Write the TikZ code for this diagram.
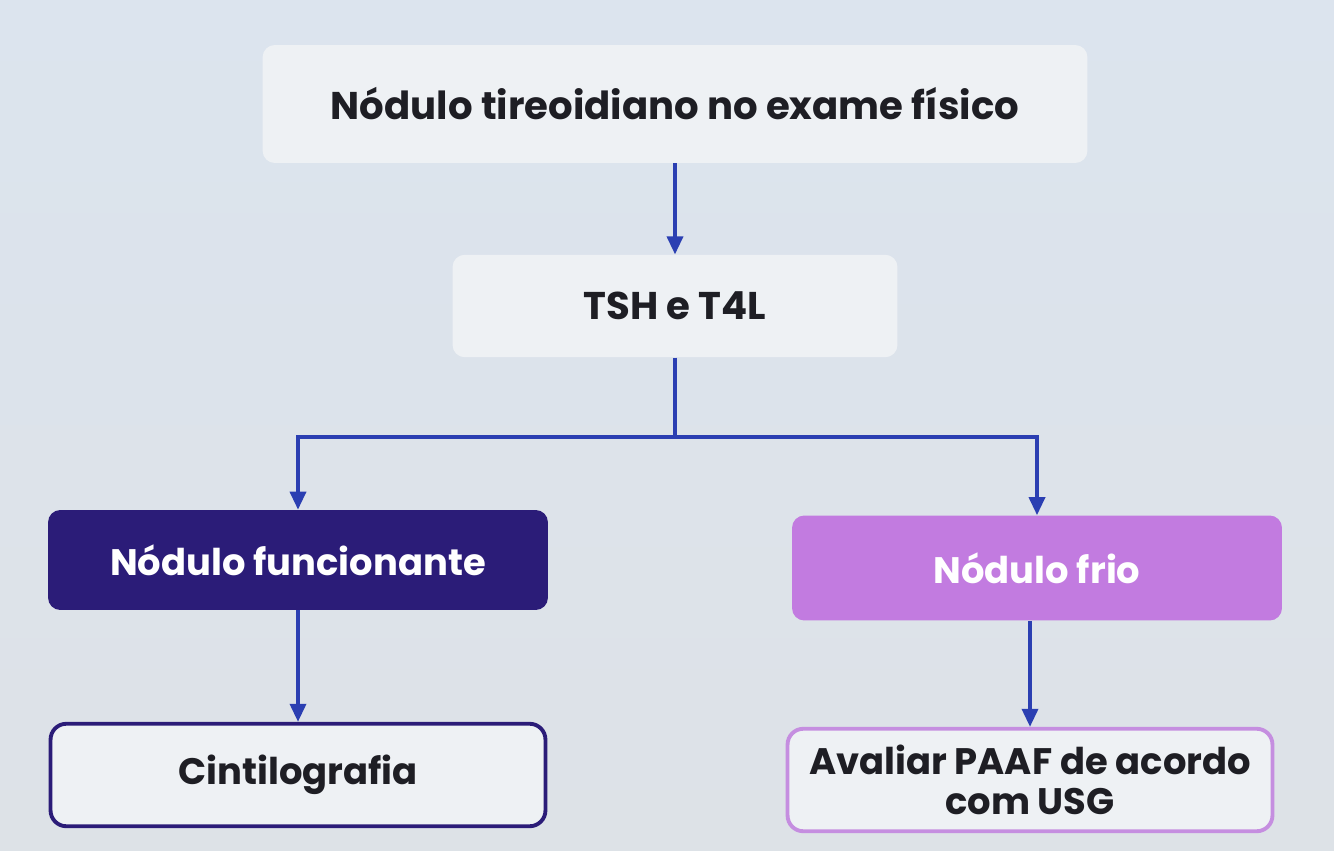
\documentclass[tikz,border=0pt]{standalone}
\usepackage{fontspec}
\setsansfont{Poppins}
\usepackage{tikz}
\usetikzlibrary{arrows.meta,positioning}
\definecolor{bgtop}{HTML}{DCE4EE}
\definecolor{bgbot}{HTML}{DDE2E7}
\definecolor{softbox}{HTML}{EEF1F4}
\definecolor{indigo}{HTML}{2B1C78}
\definecolor{orchid}{HTML}{C27BE0}
\definecolor{lilac}{HTML}{C58EE0}
\definecolor{flowblue}{HTML}{2B3FB2}
\definecolor{inkdark}{HTML}{1E1E24}
\tikzset{
  plain/.style={fill=softbox, rounded corners=7pt, align=center,
                font=\sffamily\bfseries\fontsize{21}{23}\selectfont, text=inkdark},
  dark/.style={fill=indigo, rounded corners=7pt, align=center,
               font=\sffamily\bfseries\fontsize{21}{23}\selectfont, text=white},
  light/.style={fill=orchid, rounded corners=7pt, align=center,
                font=\sffamily\bfseries\fontsize{21}{23}\selectfont, text=white},
  framed/.style={plain, draw, line width=2.2pt, rounded corners=9pt},
  link/.style={draw=flowblue, line width=2pt},
  flow/.style={link, -{Triangle[length=3.6mm, width=3.2mm]}},
}

\begin{document}
\begin{tikzpicture}[x=0.02cm, y=-0.02cm]
  \shade[top color=bgtop, bottom color=bgbot] (0,0) rectangle (1334,851);
  \useasboundingbox (0,0) rectangle (1334,851);
  \node[plain, font=\sffamily\bfseries\fontsize{22}{27}\selectfont, minimum width=16.5cm, minimum height=2.36cm] (exam) at (675,104) {Nódulo tireoidiano no exame físico};
  \node[plain, font=\sffamily\bfseries\fontsize{22}{27}\selectfont, minimum width=8.9cm, minimum height=2.05cm] (tsh) at (675,306) {TSH e T4L};
  \node[dark, minimum width=10cm, minimum height=2cm] (func) at (298,560) {Nódulo funcionante};
  \node[light, minimum width=9.8cm, minimum height=2.1cm] (frio) at (1037,568) {Nódulo frio};
  \node[framed, draw=indigo, minimum width=9.9cm, minimum height=2.05cm] (cinti) at (298,775) {Cintilografia};
  \node[framed, draw=lilac, minimum width=9.7cm, minimum height=2.05cm] (paaf) at (1030,780) {Avaliar PAAF de acordo\\com USG};
  \coordinate (split) at (675,437);
  \draw[flow] (exam) -- (tsh);
  \draw[link] (tsh) -- (split);
  \draw[flow] (split) -| (func);
  \draw[flow] (split) -| (frio);
  \draw[flow] (func) -- (cinti);
  \draw[flow] (frio.south -| paaf.north) -- (paaf);
\end{tikzpicture}
\end{document}
